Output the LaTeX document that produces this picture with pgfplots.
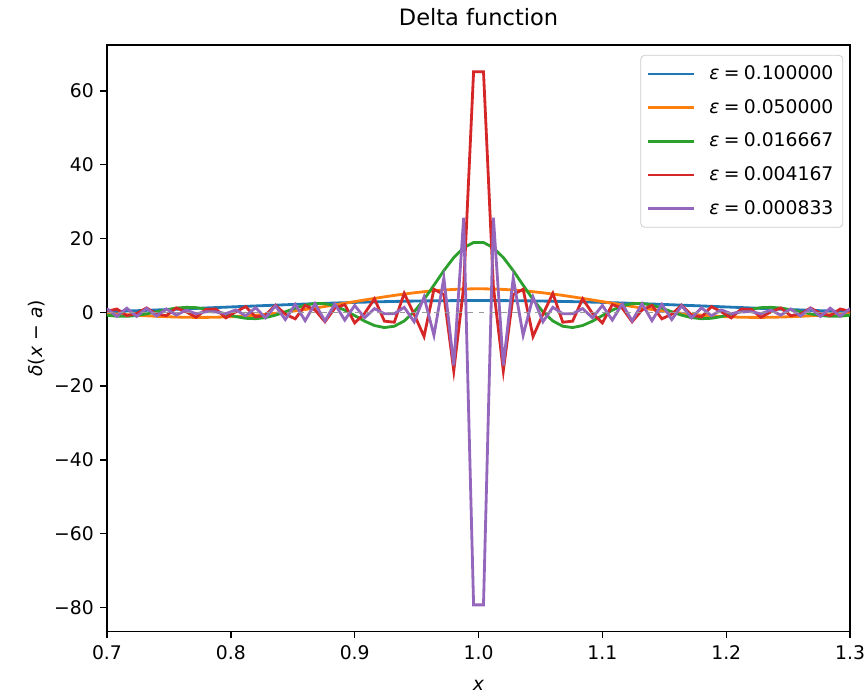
\documentclass[border=0pt,10pt]{standalone}
\usepackage{fontspec}
\setmainfont{DejaVu Sans}
\usepackage{pgfplots}
\usepackage{pgfplotstable}
\pgfplotsset{compat=1.18}
\definecolor{c0}{HTML}{1F77B4}
\definecolor{c1}{HTML}{FF7F0E}
\definecolor{c2}{HTML}{2CA02C}
\definecolor{c3}{HTML}{D62728}
\definecolor{c4}{HTML}{9467BD}
\newcommand{\eps}[1]{\hspace{5.5pt}\textit{ε}\hspace{2.3pt}=\hspace{2.3pt}#1}
\pgfplotstableread{
x b o g r p
0.700 0.150 -0.296 -0.797 0.269 1.017
0.708 0.243 -0.467 -1.058 0.896 -1.083
0.716 0.335 -0.636 -1.089 -0.915 1.119
0.724 0.430 -0.797 -0.868 -0.304 -1.121
0.732 0.529 -0.947 -0.432 1.184 1.088
0.740 0.631 -1.082 0.132 -0.512 -1.018
0.748 0.736 -1.196 0.700 -0.897 0.912
0.756 0.842 -1.286 1.143 1.180 -0.771
0.764 0.950 -1.349 1.349 0.123 0.595
0.772 1.059 -1.380 1.253 -1.350 -0.388
0.780 1.170 -1.377 0.857 0.825 0.153
0.788 1.281 -1.337 0.230 0.866 0.103
0.796 1.392 -1.259 -0.500 -1.505 -0.377
0.804 1.503 -1.141 -1.172 0.136 0.661
0.812 1.613 -0.982 -1.625 1.537 -0.948
0.820 1.722 -0.783 -1.734 -1.246 1.231
0.828 1.830 -0.544 -1.444 -0.787 -1.500
0.836 1.936 -0.268 -0.783 1.933 1.747
0.844 2.040 0.044 0.132 -0.523 -1.963
0.852 2.142 0.389 1.115 -1.765 2.140
0.860 2.241 0.762 1.943 1.860 -2.268
0.868 2.336 1.159 2.406 0.629 2.336
0.876 2.428 1.577 2.350 -2.558 -2.338
0.884 2.516 2.006 1.719 1.155 2.263
0.892 2.599 2.450 0.576 2.088 -2.103
0.900 2.678 2.894 -0.889 -2.882 1.848
0.908 2.753 3.335 -2.392 -0.307 -1.487
0.916 2.822 3.767 -3.588 3.661 1.007
0.924 2.885 4.183 -4.139 -2.398 -0.392
0.932 2.943 4.577 -3.776 -2.689 -0.381
0.940 2.996 4.945 -2.348 5.123 1.347
0.948 3.042 5.279 0.132 -0.528 -2.562
0.956 3.081 5.576 3.478 -6.559 4.127
0.964 3.115 5.830 7.351 6.248 -6.233
0.972 3.142 6.039 11.300 4.809 9.296
0.980 3.162 6.198 14.834 -15.855 -14.413
0.988 3.176 6.305 17.491 6.860 25.615
0.996 3.182 6.359 18.916 65.190 -79.270
1.004 3.182 6.359 18.916 65.190 -79.270
1.012 3.176 6.305 17.491 6.860 25.615
1.020 3.162 6.198 14.834 -15.855 -14.413
1.028 3.142 6.039 11.300 4.809 9.296
1.036 3.115 5.830 7.351 6.248 -6.233
1.044 3.081 5.576 3.478 -6.559 4.127
1.052 3.042 5.279 0.132 -0.528 -2.562
1.060 2.996 4.945 -2.348 5.123 1.347
1.068 2.943 4.577 -3.776 -2.689 -0.381
1.076 2.885 4.183 -4.139 -2.398 -0.392
1.084 2.822 3.767 -3.588 3.661 1.007
1.092 2.753 3.335 -2.392 -0.307 -1.487
1.100 2.678 2.894 -0.889 -2.882 1.848
1.108 2.599 2.450 0.576 2.088 -2.103
1.116 2.516 2.006 1.719 1.155 2.263
1.124 2.428 1.577 2.350 -2.558 -2.338
1.132 2.336 1.159 2.406 0.629 2.336
1.140 2.241 0.762 1.943 1.860 -2.268
1.148 2.142 0.389 1.115 -1.765 2.140
1.156 2.040 0.044 0.132 -0.523 -1.963
1.164 1.936 -0.268 -0.783 1.933 1.747
1.172 1.830 -0.544 -1.444 -0.787 -1.500
1.180 1.722 -0.783 -1.734 -1.246 1.231
1.188 1.613 -0.982 -1.625 1.537 -0.948
1.196 1.503 -1.141 -1.172 0.136 0.661
1.204 1.392 -1.259 -0.500 -1.505 -0.377
1.212 1.281 -1.337 0.230 0.866 0.103
1.220 1.170 -1.377 0.857 0.825 0.153
1.228 1.059 -1.380 1.253 -1.350 -0.388
1.236 0.950 -1.349 1.349 0.123 0.595
1.244 0.842 -1.286 1.143 1.180 -0.771
1.252 0.736 -1.196 0.700 -0.897 0.912
1.260 0.631 -1.082 0.132 -0.512 -1.018
1.268 0.529 -0.947 -0.432 1.184 1.088
1.276 0.430 -0.797 -0.868 -0.304 -1.121
1.284 0.335 -0.636 -1.089 -0.915 1.119
1.292 0.243 -0.467 -1.058 0.896 -1.083
1.300 0.150 -0.296 -0.797 0.269 1.017
}\datatable
\begin{document}
\begin{tikzpicture}
\begin{axis}[
  name=ax,
  scale only axis,
  width=396pt, height=312.5pt,
  xmin=0.7, xmax=1.3,
  ymin=-86.49, ymax=72.41,
  axis line style={line width=0.8pt},
  tick align=outside,
  xtick pos=bottom, ytick pos=left,
  tick style={black, line width=0.8pt},
  major tick length=3.5pt,
  xtick={0.7,0.8,0.9,1.0,1.1,1.2,1.3},
  xticklabels={0.7,0.8,0.9,1.0,1.1,1.2,1.3},
  ytick={-80,-60,-40,-20,0,20,40,60},
  yticklabels={−80,−60,−40,−20,0,20,40,60},
  tick label style={font=\fontsize{10}{12}\selectfont},
  xticklabel style={yshift=-0.5pt},
  title={Delta function},
  title style={font=\fontsize{12}{14}\selectfont, yshift=0.7pt},
  xlabel={\textit{x}},
  ylabel={\textit{δ}(\textit{x} − \textit{a})},
  label style={font=\fontsize{10}{12}\selectfont},
  xlabel style={yshift=-4pt},
  ylabel style={yshift=-2pt},
  legend style={at={(1,1)}, anchor=north east, xshift=-3.7pt, yshift=-5.3pt,
    draw=black!20, rounded corners=2pt, fill=white, fill opacity=0.8, text opacity=1,
    font=\fontsize{10}{12}\selectfont, inner xsep=3pt, inner ysep=3.5pt,
    row sep=5pt, cells={anchor=west}},
  legend image code/.code={\draw[#1] (0pt,0pt) -- (24.5pt,0pt);},
  every axis plot/.append style={line width=1.5pt},
]
\addplot[c0] table[x=x,y=b] {\datatable};
\addlegendentry{\eps{0.100000}}
\addplot[c1] table[x=x,y=o] {\datatable};
\addlegendentry{\eps{0.050000}}
\addplot[c2] table[x=x,y=g] {\datatable};
\addlegendentry{\eps{0.016667}}
\addplot[c3] table[x=x,y=r] {\datatable};
\addlegendentry{\eps{0.004167}}
\addplot[c4] table[x=x,y=p] {\datatable};
\addlegendentry{\eps{0.000833}}
\addplot[gray!80, dashed, line width=0.8pt, forget plot] coordinates {(0.7,0) (1.3,0)};
\end{axis}
\pgfresetboundingbox
\path ([shift={(-57pt,-34pt)}]ax.south west) rectangle ([shift={(9pt,24pt)}]ax.north east);
\end{tikzpicture}
\end{document}
